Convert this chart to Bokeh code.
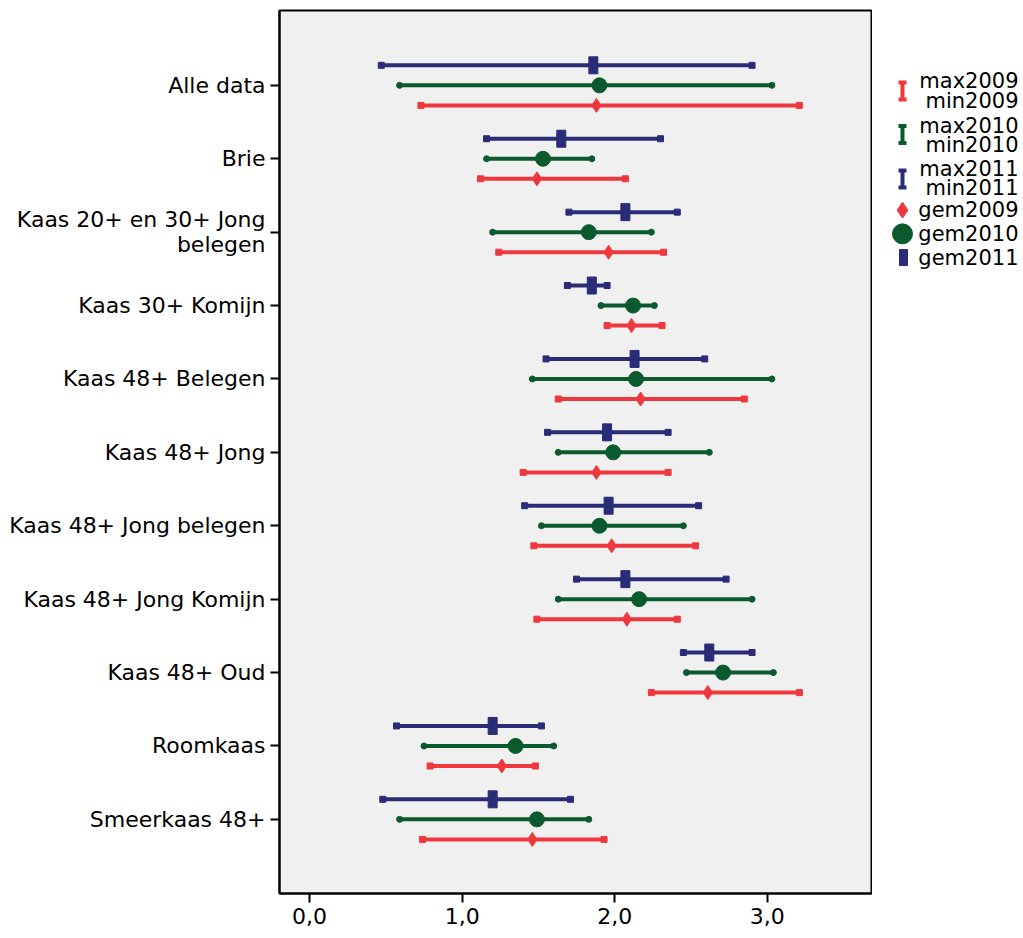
from bokeh.plotting import figure
from bokeh.layouts import row
from bokeh.models import Range1d, FixedTicker
from bokeh.core.properties import value
from bokeh.embed import file_html
from bokeh.resources import INLINE

categories = ["Alle data", "Brie", "Kaas 20+ en 30+ Jong\nbelegen", "Kaas 30+ Komijn",
              "Kaas 48+ Belegen", "Kaas 48+ Jong", "Kaas 48+ Jong belegen",
              "Kaas 48+ Jong Komijn", "Kaas 48+ Oud", "Roomkaas", "Smeerkaas 48+"]

min2009 = [0.73, 1.12, 1.24, 1.95, 1.63, 1.40, 1.47, 1.49, 2.24, 0.79, 0.74]
max2009 = [3.21, 2.07, 2.32, 2.31, 2.85, 2.35, 2.53, 2.41, 3.21, 1.48, 1.93]
gem2009 = [1.88, 1.49, 1.96, 2.11, 2.17, 1.88, 1.98, 2.08, 2.61, 1.26, 1.46]

min2010 = [0.59, 1.16, 1.20, 1.91, 1.46, 1.63, 1.52, 1.63, 2.47, 0.75, 0.59]
max2010 = [3.03, 1.85, 2.24, 2.26, 3.03, 2.62, 2.45, 2.90, 3.04, 1.60, 1.83]
gem2010 = [1.90, 1.53, 1.83, 2.12, 2.14, 1.99, 1.90, 2.16, 2.71, 1.35, 1.49]

min2011 = [0.47, 1.16, 1.70, 1.69, 1.55, 1.56, 1.41, 1.75, 2.45, 0.57, 0.48]
max2011 = [2.90, 2.30, 2.41, 1.95, 2.59, 2.35, 2.55, 2.73, 2.90, 1.52, 1.71]
gem2011 = [1.86, 1.65, 2.07, 1.85, 2.13, 1.95, 1.96, 2.07, 2.62, 1.20, 1.20]

x_ticks = [0, 1, 2, 3]
x_tick_labels = ["0,0", "1,0", "2,0", "3,0"]

RED = "#EF373E"
GREEN = "#0B5A2E"
BLUE = "#2A2C78"
FONT = "DejaVu Sans"
FS = "22px"
LFS = "21px"

OFF = 0.273
idx = list(range(len(categories)))
y09 = [i + OFF for i in idx]
y10 = [i for i in idx]
y11 = [i - OFF for i in idx]

p = figure(width=872, height=933, output_backend="svg", toolbar_location=None,
           x_range=Range1d(-0.197, 3.683), y_range=Range1d(11.01, -1.02),
           min_border_left=279, min_border_right=1, min_border_top=10,
           min_border_bottom=40)
p.background_fill_color = "#F0F0F0"
p.border_fill_color = "white"
p.outline_line_color = "black"
p.outline_line_width = 2
p.grid.visible = False

# error bars
for mn, mx, yy, col, cap in [(min2011, max2011, y11, BLUE, "square"),
                             (min2010, max2010, y10, GREEN, "circle"),
                             (min2009, max2009, y09, RED, "square")]:
    p.segment(x0=mn, y0=yy, x1=mx, y1=yy, line_color=col, line_width=4)
    p.scatter(x=mn, y=yy, marker=cap, size=6, fill_color=col, line_color=col)
    p.scatter(x=mx, y=yy, marker=cap, size=6, fill_color=col, line_color=col)

# means
p.rect(x=gem2011, y=y11, width=9, height=17, width_units="screen",
       height_units="screen", fill_color=BLUE, line_color=BLUE)
p.scatter(x=gem2010, y=y10, marker="circle", size=15, fill_color=GREEN, line_color=GREEN)
p.scatter(x=gem2009, y=y09, marker="diamond", size=14, fill_color=RED, line_color=RED)

# axes
p.xaxis.ticker = FixedTicker(ticks=x_ticks)
p.xaxis.major_label_overrides = {t: l for t, l in zip(x_ticks, x_tick_labels)}
p.yaxis.ticker = FixedTicker(ticks=idx)
p.yaxis.major_label_overrides = {i: c for i, c in zip(idx, categories)}
for ax in (p.xaxis[0], p.yaxis[0]):
    ax.axis_line_color = "black"
    ax.axis_line_width = 2
    ax.major_tick_line_color = "black"
    ax.major_tick_line_width = 2
    ax.major_tick_out = 9
    ax.major_tick_in = 0
    ax.minor_tick_line_color = None
    ax.major_label_text_font = FONT
    ax.major_label_text_font_size = FS
    ax.major_label_text_color = "black"
    ax.major_label_standoff = 5
    ax.major_label_text_line_height = 1.0
p.yaxis.major_label_text_align = "right"

# legend panel
lg = figure(width=148, height=933, output_backend="svg", toolbar_location=None,
            x_range=Range1d(0, 148), y_range=Range1d(933, 0),
            min_border_left=0, min_border_right=0, min_border_top=0, min_border_bottom=0)
lg.axis.visible = False
lg.grid.visible = False
lg.outline_line_color = None
lg.background_fill_color = "white"

leg_colors = [RED, GREEN, BLUE]
leg_years = ["2009", "2010", "2011"]
ix = 902 - 872
tx = 1018 - 872
i_top = [76, 122, 169]
i_bot = [94, 140, 187]
t_max = [75, 122, 168]
t_min = [96, 142, 188]
lg.segment(x0=[ix] * 3, y0=i_top, x1=[ix] * 3, y1=i_bot, line_color=leg_colors, line_width=4)
lg.segment(x0=[ix - 4] * 3, y0=i_top, x1=[ix + 4] * 3, y1=i_top, line_color=leg_colors, line_width=4)
lg.segment(x0=[ix - 4] * 3, y0=i_bot, x1=[ix + 4] * 3, y1=i_bot, line_color=leg_colors, line_width=4)
lg.text(x=[tx] * 3, y=t_max, text=["max" + y for y in leg_years], text_align="right",
        text_baseline="middle", text_font=value(FONT), text_font_size=LFS, text_color="black")
lg.text(x=[tx] * 3, y=t_min, text=["min" + y for y in leg_years], text_align="right",
        text_baseline="middle", text_font=value(FONT), text_font_size=LFS, text_color="black")
g_y = [211, 236, 261]
lg.scatter(x=[ix], y=[g_y[0]], marker="diamond", size=16, fill_color=RED, line_color=RED)
lg.scatter(x=[ix], y=[g_y[1]], marker="circle", size=20, fill_color=GREEN, line_color=GREEN)
lg.rect(x=[ix + 1], y=[g_y[2]], width=8, height=17, fill_color=BLUE, line_color=BLUE)
lg.text(x=[tx] * 3, y=g_y, text=["gem" + y for y in leg_years], text_align="right",
        text_baseline="middle", text_font=value(FONT), text_font_size=LFS, text_color="black")

layout = row(p, lg)
open("out.html", "w").write(file_html(layout, INLINE))
